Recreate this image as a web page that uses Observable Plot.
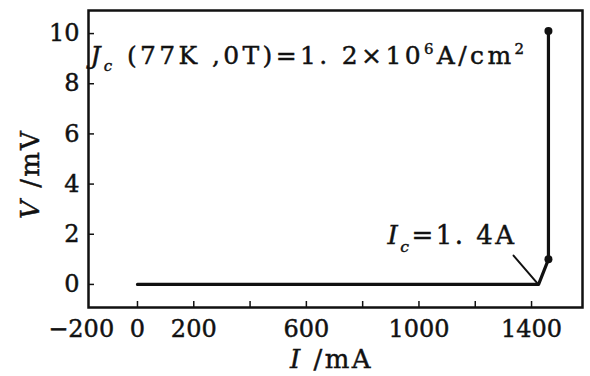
<!DOCTYPE html>
<html><head><meta charset="utf-8">
<script src="https://cdn.jsdelivr.net/npm/d3@7"></script>
<script src="https://cdn.jsdelivr.net/npm/@observablehq/plot@0.6"></script>
<style>body{margin:0;background:#fff} svg{display:block}</style>
</head><body><div id="chart"></div>
<script>
// ---- data ----
const currentI = [0, 1425, 1460, 1460];      // mA
const voltageV = [0, 0, 1.0, 10.1];          // mV
const dotI = [1460, 1460];
const dotV = [1.0, 10.1];
const xTickValues = [0, 200, 400, 600, 800, 1000, 1200, 1400];
const xTickLabels = [-200, 0, 200, 600, 1000, 1400];
const yTickValues = [0, 2, 4, 6, 8, 10];
const jcNote = "Jc (77K ,0T)=1. 2×106A/cm2";
const icNote = "Ic=1. 4A";
const leaderI = [1336, 1424];
const leaderV = [1.15, 0];
const xTitle = "I /mA";
const yTitle = "V /mV";

// ---- layout ----
const W = 590, H = 376;
const mL = 88, mR = 8, mT = 10, mB = 69;
const fw = W - mL - mR, fh = H - mT - mB;
const FONT = "'DejaVu Serif','Liberation Serif',serif";

const line = currentI.map((I, i) => ({I, V: voltageV[i]}));
const dots = dotI.map((I, i) => ({I, V: dotV[i]}));
const leader = leaderI.map((I, i) => ({I, V: leaderV[i]}));

const plot = Plot.plot({
  width: W, height: H,
  marginLeft: mL, marginRight: mR, marginTop: mT, marginBottom: mB,
  style: {fontFamily: FONT, background: "#fff", color: "#111"},
  x: {domain: [-174, 1581]},
  y: {domain: [-0.92, 10.92]},
  marks: [
    Plot.frame({stroke: "#111", strokeWidth: 2.5}),
    Plot.ruleX(xTickValues, {x: d => d, insetTop: fh - 6, stroke: "#111", strokeWidth: 1.5}),
    Plot.ruleY(yTickValues, {y: d => d, insetRight: fw - 6, stroke: "#111", strokeWidth: 1.5}),
    Plot.axisX(xTickLabels, {anchor: "bottom", tickSize: 0, tickPadding: 12, fontSize: 24, label: null, tickFormat: d => d < 0 ? "−" + Math.abs(d) : String(d)}),
    Plot.axisY(yTickValues, {anchor: "left", tickSize: 0, tickPadding: 9, fontSize: 24, label: null}),
    Plot.line(line, {x: "I", y: "V", stroke: "#111", strokeWidth: 3.2}),
    Plot.dot(dots, {x: "I", y: "V", r: 4, fill: "#111"}),
    Plot.line(leader, {x: "I", y: "V", stroke: "#111", strokeWidth: 2}),
    Plot.text([jcNote], {x: -167, y: 9.12, text: d => d, textAnchor: "start", fontSize: 25, fill: "#111"}),
    Plot.text([icNote], {x: 888, y: 1.95, text: d => d, textAnchor: "start", fontSize: 26, fill: "#111"}),
    Plot.text([xTitle], {frameAnchor: "bottom", text: d => d, dy: 60, dx: -4, fontSize: 26, fill: "#111"}),
    Plot.text([yTitle], {frameAnchor: "left", text: d => d, rotate: -90, dx: -58, dy: 60, fontSize: 26, fill: "#111"})
  ]
});

function richify(svg, plain, parts, fs, target, cap) {
  d3.select(svg).selectAll("text").filter(function(){ return this.textContent === plain; }).each(function(){
    const t = d3.select(this); t.text(null);
    let shift = 0;
    for (const [s, k] of parts) {
      const ts = t.append("tspan").text(s);
      let tg = 0;
      if (k.sub) { tg = fs * 0.3; ts.attr("font-size", fs * 0.6); }
      if (k.sup) { tg = -fs * 0.4; ts.attr("font-size", fs * 0.6); }
      if (k.it) ts.attr("font-style", "italic");
      const d = tg - shift; if (d) ts.attr("dy", d); shift = tg;
    }
    if (target) {
      const len = this.getComputedTextLength();
      const n = plain.length;
      const ls = Math.min(cap, (target - len) / n);
      if (ls > 0) this.setAttribute("letter-spacing", ls.toFixed(2));
    }
  });
}
document.getElementById("chart").append(plot);
richify(plot, jcNote, [["J",{it:1}],["c",{it:1,sub:1}],[" (77K ,0T)=1. 2×10",{}],["6",{sup:1}],["A/cm",{}],["2",{sup:1}]], 25, 437, 3.5);
richify(plot, icNote, [["I",{it:1}],["c",{it:1,sub:1}],["=1. 4A",{}]], 26, 135, 2.5);
richify(plot, xTitle, [["I",{it:1}],[" /mA",{}]], 26, 91, 2.5);
richify(plot, yTitle, [["V",{it:1}],[" /mV",{}]], 26, 90, 2.5);
d3.select(plot).selectAll("text").attr("stroke", "#111").attr("stroke-width", 0.45);
</script></body></html>
